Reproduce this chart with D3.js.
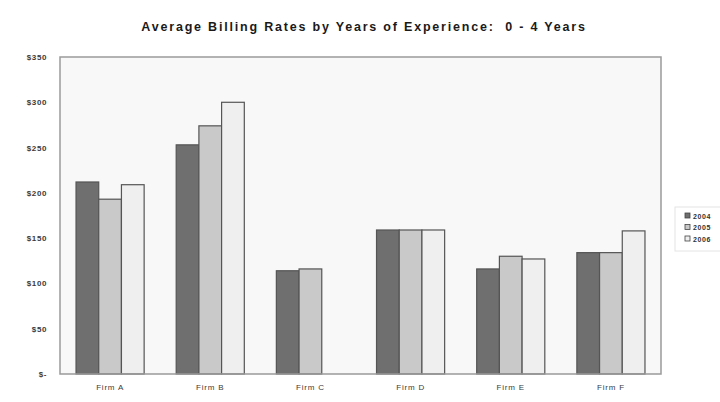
<!DOCTYPE html>
<html>
<head>
<meta charset="utf-8">
<script src="https://cdn.jsdelivr.net/npm/d3@7"></script>
<style>
  html, body { margin: 0; padding: 0; background: #ffffff; }
  svg { display: block; font-family: "Liberation Sans", Arial, sans-serif; }
</style>
</head>
<body>
<svg id="chart" width="720" height="402"></svg>
<script>
// Average billing rates, 0-4 years of experience
const firms = ["Firm A", "Firm B", "Firm C", "Firm D", "Firm E", "Firm F"];
const years = ["2004", "2005", "2006"];
const rates2004 = [212, 253, 114, 159, 116, 134];
const rates2005 = [193, 274, 116, 159, 130, 134];
const rates2006 = [209, 300, null, 159, 127, 158];
const yTicks = [0, 50, 100, 150, 200, 250, 300, 350];
const yTickLabels = ["$-", "$50", "$100", "$150", "$200", "$250", "$300", "$350"];
const titleText = "Average Billing Rates by Years of Experience:  0 - 4 Years";

const seriesValues = { "2004": rates2004, "2005": rates2005, "2006": rates2006 };
const fills = { "2004": "#6f6f6f", "2005": "#c9c9c9", "2006": "#efefef" };

const svg = d3.select("#chart");
const plot = { left: 60, right: 661, top: 57, bottom: 374 };

const x = d3.scaleBand().domain(firms).range([plot.left, plot.right]).paddingInner(0.32).paddingOuter(0.16);
const xs = d3.scaleBand().domain(years).range([0, x.bandwidth()]);
const y = d3.scaleLinear().domain([0, 350]).range([plot.bottom, plot.top]);

// plot background and frame
svg.append("rect")
  .attr("x", plot.left).attr("y", plot.top)
  .attr("width", plot.right - plot.left).attr("height", plot.bottom - plot.top)
  .attr("fill", "#f8f8f8");

// title
svg.append("text")
  .attr("x", 364).attr("y", 31)
  .attr("text-anchor", "middle")
  .attr("font-size", 12.5).attr("font-weight", "bold")
  .attr("letter-spacing", 1.8)
  .attr("fill", "#1a1a1a")
  .style("white-space", "pre")
  .text(titleText);

// bars
const rows = [];
firms.forEach((f, i) => years.forEach(yr => {
  const v = seriesValues[yr][i];
  if (v != null) rows.push({ firm: f, year: yr, value: v });
}));

svg.append("g").selectAll("rect")
  .data(rows)
  .join("rect")
  .attr("x", d => x(d.firm) + xs(d.year))
  .attr("y", d => y(d.value))
  .attr("width", xs.bandwidth())
  .attr("height", d => y(0) - y(d.value))
  .attr("fill", d => fills[d.year])
  .attr("stroke", "#555")
  .attr("stroke-width", 1.2);

svg.append("rect")
  .attr("x", plot.left).attr("y", plot.top)
  .attr("width", plot.right - plot.left).attr("height", plot.bottom - plot.top)
  .attr("fill", "none").attr("stroke", "#9a9a9a").attr("stroke-width", 1.5);

// y axis
const yAxis = d3.axisLeft(y).tickValues(yTicks)
  .tickFormat((d, i) => yTickLabels[i]).tickSize(0).tickPadding(13);
const yg = svg.append("g").attr("transform", `translate(${plot.left},0)`).call(yAxis);
yg.select(".domain").remove();
yg.selectAll("text")
  .attr("font-size", 8).attr("font-weight", "bold")
  .attr("letter-spacing", 0.6)
  .attr("fill", "#3a3a3a")
  .attr("font-family", "Liberation Sans, Arial, sans-serif");

// x axis
const xAxis = d3.axisBottom(x).tickSize(0).tickPadding(10);
const xg = svg.append("g").attr("transform", `translate(0,${plot.bottom})`).call(xAxis);
xg.select(".domain").remove();
xg.selectAll("text")
  .attr("font-size", 8)
  .attr("letter-spacing", 0.8)
  .attr("fill", "#3a3a3a")
  .attr("font-family", "Liberation Sans, Arial, sans-serif");

// legend
const lg = svg.append("g").attr("transform", "translate(675,207)");
lg.append("rect").attr("x", 0).attr("y", 0).attr("width", 50).attr("height", 44)
  .attr("fill", "#ffffff").attr("stroke", "#e4e4e4").attr("stroke-width", 1);
years.forEach((yr, i) => {
  const item = lg.append("g").attr("transform", `translate(10,${9 + i * 11.5})`);
  item.append("rect").attr("x", 0).attr("y", -3).attr("width", 5).attr("height", 5)
    .attr("fill", fills[yr]).attr("stroke", "#444").attr("stroke-width", 0.8);
  item.append("text").attr("x", 8).attr("y", 2.5)
    .attr("font-size", 7).attr("font-weight", "bold").attr("letter-spacing", 0.6)
    .attr("fill", "#333").text(yr);
});
</script>
</body>
</html>
